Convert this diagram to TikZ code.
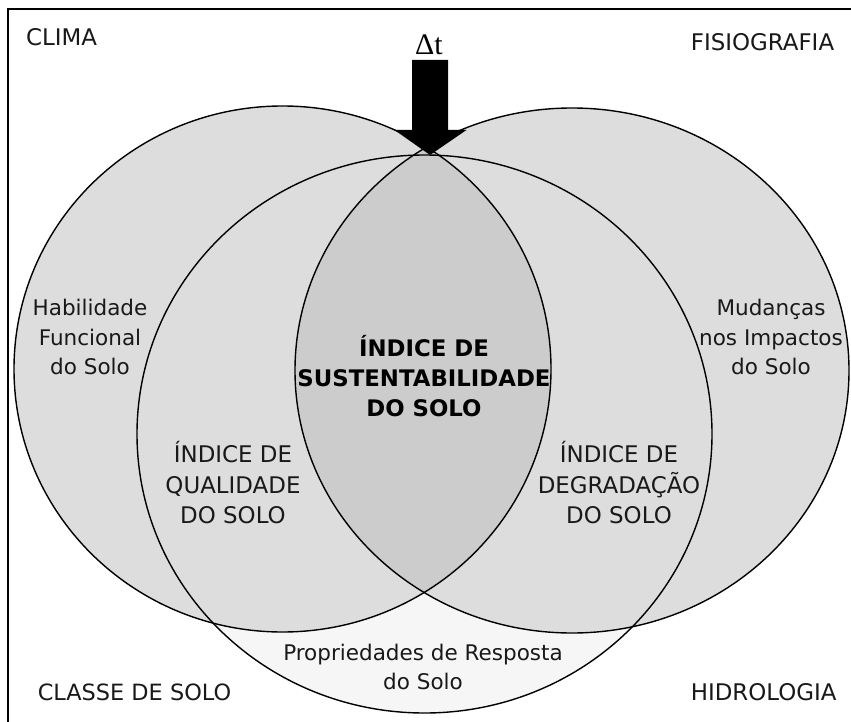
\documentclass[tikz,border=0pt]{standalone}
\usepackage{fontspec}
\newfontfamily\lab{DejaVu Sans}
\newfontfamily\serifdelta{Liberation Serif}
\definecolor{ringfill}{gray}{0.865}
\definecolor{lensfill}{gray}{0.80}
\definecolor{lowfill}{gray}{0.965}
\tikzset{
  ring/.style={draw=black, line width=1.4bp},
  lbl/.style={font=\lab\fontsize{21.6}{29.6}\selectfont, align=center, inner sep=0pt, text=black!90},
  caplbl/.style={font=\lab\fontsize{23}{30.5}\selectfont, align=center, inner sep=0pt, text=black!90},
  cornerlbl/.style={font=\lab\fontsize{23}{28}\selectfont, inner sep=0pt, anchor=base, text=black!90},
  mainlbl/.style={font=\lab\bfseries\fontsize{22.9}{30}\selectfont, align=center, inner sep=0pt},
}
\begin{document}
\begin{tikzpicture}[x=1bp,y=-1bp]
\useasboundingbox (0,0) rectangle (851,722);
\fill[white] (0,0) rectangle (851,722);
% frame (right and bottom sides fall outside the page)
\draw[line width=1.1bp] (8,9) rectangle (870,740);
% fills
\fill[lowfill] (424.5,434) ellipse [x radius=287.5bp, y radius=279bp];
\fill[ringfill] (282.5,369) ellipse [x radius=268.5bp, y radius=263bp];
\fill[ringfill] (572,370.5) ellipse [x radius=277bp, y radius=262.5bp];
\begin{scope}
  \clip (282.5,369) ellipse [x radius=268.5bp, y radius=263bp];
  \fill[lensfill] (572,370.5) ellipse [x radius=277bp, y radius=262.5bp];
\end{scope}
% outlines
\draw[ring] (424.5,434) ellipse [x radius=287.5bp, y radius=279bp];
\draw[ring] (282.5,369) ellipse [x radius=268.5bp, y radius=263bp];
\draw[ring] (572,370.5) ellipse [x radius=277bp, y radius=262.5bp];
% time arrow
\fill[black] (412,60) -- (448,60) -- (448,130) -- (466.5,130) -- (430,155)
  -- (394.5,130) -- (412,130) -- cycle;
\node[font=\serifdelta\fontsize{30}{32}\selectfont, inner sep=0pt, anchor=base] (dt) at (429,55) {Δt};
% corner labels
\node[cornerlbl] (clima) at (61.6,46) {CLIMA};
\node[cornerlbl] (fisio) at (762.5,50.5) {FISIOGRAFIA};
\node[cornerlbl, font=\lab\fontsize{22.5}{28}\selectfont] (classe) at (134.5,700) {CLASSE DE SOLO};
\node[cornerlbl] (hidro) at (763.7,700) {HIDROLOGIA};
% region labels
\node[lbl] (habil) at (90,337.2) {Habilidade\\Funcional\\do Solo};
\node[lbl] (mudanca) at (771,337.3) {Mudanças\\nos Impactos\\do Solo};
\node[caplbl] (qualid) at (233,482.8) {ÍNDICE DE\\QUALIDADE\\DO SOLO};
\node[caplbl] (degrad) at (619,482.8) {ÍNDICE DE\\DEGRADAÇÃO\\DO SOLO};
\node[mainlbl] (sustent) at (424,376) {ÍNDICE DE\\SUSTENTABILIDADE\\DO SOLO};
\node[lbl] (propr) at (423,666.8) {Propriedades de Resposta\\do Solo};
\end{tikzpicture}
\end{document}
